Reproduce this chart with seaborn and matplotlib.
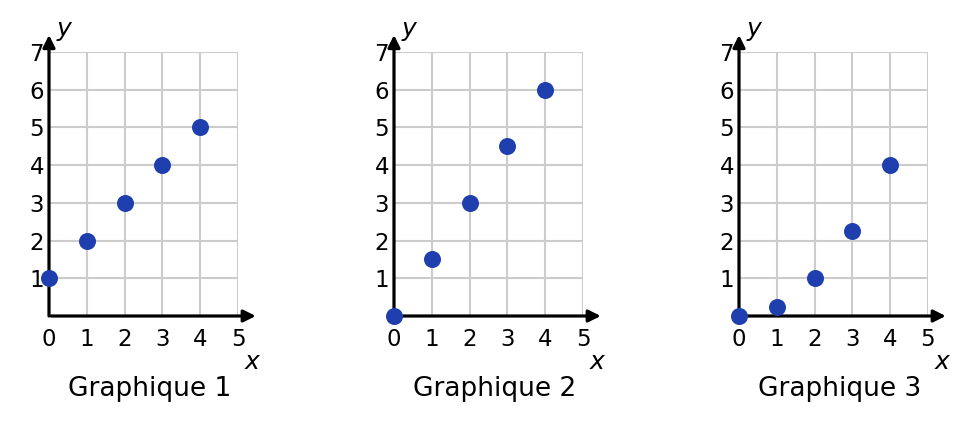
import matplotlib
matplotlib.use("Agg")
import matplotlib.pyplot as plt
import seaborn as sns
import pandas as pd

sns.set_style("white")
plt.rcParams['font.family'] = ['DejaVu Sans']
plt.rcParams['text.color'] = 'black'
plt.rcParams['xtick.color'] = 'black'
plt.rcParams['ytick.color'] = 'black'

x_vals = [0, 1, 2, 3, 4]
graph1_y = [1, 2, 3, 4, 5]
graph2_y = [0, 1.5, 3, 4.5, 6]
graph3_y = [0, 0.25, 1, 2.25, 4]
titles = ["Graphique 1", "Graphique 2", "Graphique 3"]
x_ticks = [0, 1, 2, 3, 4, 5]
y_ticks = [1, 2, 3, 4, 5, 6, 7]

W, H = 976, 422
fig = plt.figure(figsize=(W / 100, H / 100), dpi=100)

point_color = "#1f3fae"
offsets = [0, 345, 690]
series = [graph1_y, graph2_y, graph3_y]

for off, ys, title in zip(offsets, series, titles):
    x0 = 49 + off
    ax = fig.add_axes([x0 / W, (H - 316) / H, 189 / W, 264 / H])
    ax.set_xlim(0, 5)
    ax.set_ylim(0, 7)
    ax.set_xticks(x_ticks)
    ax.set_yticks(y_ticks)
    ax.grid(True, color="#cccccc", lw=1.5)
    ax.set_axisbelow(True)
    for s in ax.spines.values():
        s.set_visible(False)
    ax.tick_params(axis="both", length=0, labelsize=16.5, labelcolor="black")
    ax.tick_params(axis="x", pad=9)
    ax.tick_params(axis="y", pad=3.5)
    # axes arrows
    ax.annotate("", xy=(5.47, 0), xytext=(0.06, 0),
                arrowprops=dict(arrowstyle="-|>", lw=2.3, color="black",
                                mutation_scale=18, shrinkA=0, shrinkB=0),
                annotation_clip=False)
    ax.annotate("", xy=(0, 7.45), xytext=(0, 0),
                arrowprops=dict(arrowstyle="-|>", lw=2.3, color="black",
                                mutation_scale=18, shrinkA=0, shrinkB=0),
                annotation_clip=False)
    df = pd.DataFrame({"x": x_vals, "y": ys})
    sns.scatterplot(data=df, x="x", y="y", ax=ax, color=point_color,
                    s=150, linewidth=0, clip_on=False, zorder=5)
    ax.set_xlabel("")
    ax.set_ylabel("")
    ax.text(5.37, -1.23, "x", fontsize=18, style="italic", ha="center", va="center", color="black")
    ax.text(0.4, 7.6, "y", fontsize=18, style="italic", ha="center", va="center", color="black")
    fig.text((x0 + 101) / W, (H - 389) / H, title, fontsize=19, ha="center", va="center", color="black")

fig.savefig("out.png", dpi=100)
